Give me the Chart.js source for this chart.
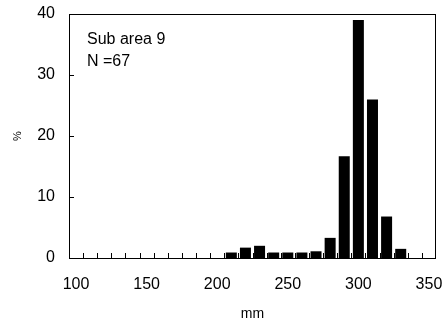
<!DOCTYPE html>
<html>
<head>
<meta charset="utf-8">
<script src="https://cdn.jsdelivr.net/npm/chart.js@4"></script>
<style>
  html, body { margin: 0; padding: 0; background: #fff; }
  #wrap { width: 447px; height: 327px; }
</style>
</head>
<body>
<div id="wrap"><canvas id="histChart"></canvas></div>
<script>
// size classes (mm), one bar per 10 mm class
const sizeClasses = [100, 110, 120, 130, 140, 150, 160, 170, 180, 190,
                     200, 210, 220, 230, 240, 250, 260, 270, 280, 290,
                     300, 310, 320, 330, 340, 350];
// percent per class
const percentValues = [0, 0, 0, 0, 0, 0, 0, 0, 0, 0,
                       0, 0.9, 1.7, 2.0, 0.9, 0.9, 0.9, 1.1, 3.3, 16.7,
                       39.0, 26.0, 6.8, 1.5, 0, 0];
const yTicks = [0, 10, 20, 30, 40];
const noteLines = ['Sub area 9', 'N =67'];

const FONT = 'Liberation Sans, Arial, sans-serif';

// box around plot, inner tick marks, note text
const framePlugin = {
    id: 'frame',
    afterDraw(chart) {
        const c = chart.ctx;
        const a = chart.chartArea;
        const xs = chart.scales.x;
        const ys = chart.scales.y;
        c.save();
        c.strokeStyle = '#000';
        c.lineWidth = 1;
        c.strokeRect(a.left + 0.5, a.top + 0.5, a.right - a.left - 1, a.bottom - a.top);

        // x ticks between classes, pointing up
        const half = (xs.getPixelForValue(1) - xs.getPixelForValue(0)) / 2;
        c.beginPath();
        for (let i = 0; i < sizeClasses.length - 1; i++) {
            const px = Math.round(xs.getPixelForValue(i) + half) + 0.5;
            c.moveTo(px, a.bottom);
            c.lineTo(px, a.bottom - 5);
        }
        // y ticks pointing right
        yTicks.slice(1, -1).forEach(v => {
            const py = Math.round(ys.getPixelForValue(v)) + 0.5;
            c.moveTo(a.left, py);
            c.lineTo(a.left + 5, py);
        });
        c.stroke();

        c.fillStyle = '#000';
        c.font = '16px ' + FONT;
        c.textBaseline = 'middle';
        c.textAlign = 'left';
        noteLines.forEach((t, i) => {
            c.fillText(t, a.left + 18, a.top + 25.5 + i * 22.5);
        });
        c.restore();
    }
};

const ctx = document.getElementById('histChart').getContext('2d');

new Chart(ctx, {
    type: 'bar',
    data: {
        labels: sizeClasses,
        datasets: [{
            data: percentValues,
            backgroundColor: '#000',
            borderColor: '#000',
            borderWidth: 0,
            barPercentage: 0.78,
            categoryPercentage: 1.0
        }]
    },
    options: {
        responsive: true,
        maintainAspectRatio: false,
        animation: false,
        devicePixelRatio: 1,
        layout: { padding: { top: 14, right: 11, left: 0, bottom: 0 } },
        plugins: {
            legend: { display: false },
            tooltip: { enabled: false }
        },
        scales: {
            x: {
                offset: true,
                afterFit: s => {
                    s.height = 69;
                    s.paddingLeft = 0; s.paddingRight = 0;
                },
                grid: { display: false, drawTicks: false },
                border: { display: false },
                ticks: {
                    autoSkip: false,
                    maxRotation: 0,
                    padding: 17,
                    color: '#000',
                    font: { family: FONT, size: 16 },
                    callback: (v, i) => (i % 5 === 0 ? sizeClasses[i] : '')
                },
                title: {
                    display: true,
                    text: 'mm',
                    color: '#000',
                    font: { family: FONT, size: 14 },
                    padding: { top: 4 }
                }
            },
            y: {
                min: 0,
                max: 40,
                afterFit: s => {
                    s.width = 69;
                    s.paddingTop = 0; s.paddingBottom = 0;
                },
                afterBuildTicks: s => { s.ticks = yTicks.map(v => ({ value: v })); },
                grid: { display: false, drawTicks: false },
                border: { display: false },
                ticks: {
                    padding: 14,
                    color: '#000',
                    font: { family: FONT, size: 16 }
                },
                title: {
                    display: true,
                    text: '%',
                    color: '#000',
                    font: { family: FONT, size: 11 },
                    padding: { top: 11 }
                }
            }
        }
    },
    plugins: [framePlugin]
});
</script>
</body>
</html>
